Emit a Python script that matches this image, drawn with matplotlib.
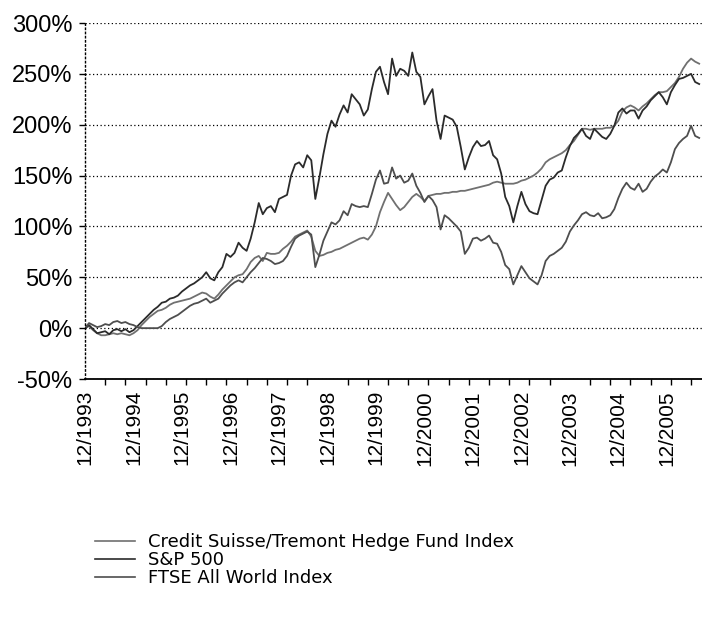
import numpy as np
import matplotlib
matplotlib.use("Agg")
import matplotlib.pyplot as plt
from matplotlib.ticker import FixedLocator, FuncFormatter

plt.rcParams['font.family'] = ['Liberation Sans', 'DejaVu Sans']

# monthly cumulative returns (%) starting 12/1993
hedge = [
    0, 2, -2, -5, -7, -7, -6, -5, -6, -5, -6, -7,
    -5, -2, 3, 7, 11, 14, 17, 18, 20, 23, 25, 26,
    27, 28, 29, 31, 33, 35, 34, 31, 29, 33, 38, 42,
    46, 50, 52, 53, 58, 65, 69, 71, 66, 74, 73, 73,
    74, 78, 81, 85, 90, 92, 94, 96, 90, 76, 71, 72,
    74, 75, 77, 78, 80, 82, 84, 86, 88, 89, 87, 92,
    100, 114, 124, 133, 127, 121, 116, 119, 124, 129, 132, 129,
    125, 130, 131, 132, 132, 133, 133, 134, 134, 135, 135, 136,
    137, 138, 139, 140, 141, 143, 144, 143, 142, 142, 142, 143,
    145, 146, 148, 150, 153, 157, 163, 166, 168, 170, 172, 175,
    180, 184, 190, 196, 196, 195, 196, 196, 196, 197, 197, 199,
    204, 213, 217, 219, 217, 214, 218, 221, 225, 229, 232, 232,
    233, 237, 241, 247, 255, 261, 265, 262, 260,
]

sp500 = [
    0, 3, -1, -5, -4, -3, -6, -2, -1, -3, -1, -4,
    -2, 2, 6, 10, 14, 18, 21, 25, 26, 29, 30, 32,
    36, 39, 42, 44, 47, 50, 55, 49, 47, 55, 60, 73,
    70, 74, 84, 79, 76, 88, 104, 123, 112, 118, 120, 114,
    127, 129, 131, 150, 161, 163, 158, 170, 165, 127, 148, 171,
    191, 204, 198, 210, 219, 212, 230, 225, 220, 209, 215, 235,
    252, 257, 242, 230, 265, 248, 255, 253, 248, 271, 252, 247,
    220, 228, 235, 204, 186, 209, 207, 205, 198, 178, 156, 168,
    178, 184, 179, 180, 184, 170, 166, 152, 129, 120, 104, 120,
    134, 122, 115, 113, 112, 126, 140, 146, 148, 153, 155, 168,
    179, 187, 191, 196, 189, 186, 196, 192, 188, 186, 191, 199,
    212, 216, 211, 214, 214, 206, 214, 218, 224, 228, 232, 227,
    220, 232, 239, 245, 246, 248, 250, 242, 240,
]

ftse = [
    0, 5, 3, 1, 2, 4, 3, 6, 7, 5, 6, 4,
    3, 1, 0, 0, 0, 0, 0, 2, 6, 9, 11, 13,
    16, 19, 22, 24, 25, 27, 29, 25, 27, 29, 34, 38,
    42, 45, 47, 45, 50, 55, 59, 64, 69, 68, 66, 63,
    64, 66, 71, 80, 88, 91, 93, 95, 92, 60, 72, 86,
    95, 104, 102, 106, 115, 111, 122, 120, 119, 120, 119, 132,
    146, 155, 142, 143, 158, 147, 150, 143, 145, 152, 140, 133,
    124, 130, 126, 119, 97, 111, 108, 104, 100, 95, 73, 79,
    88, 89, 86, 88, 91, 84, 83, 75, 62, 58, 43, 52,
    61, 55, 49, 46, 43, 52, 66, 71, 73, 76, 79, 85,
    95, 101, 106, 112, 114, 111, 110, 113, 108, 109, 111, 117,
    128, 137, 143, 138, 136, 142, 134, 137, 144, 149, 152, 156,
    153, 163, 176, 182, 186, 189, 199, 189, 187,
]

year_labels = ['12/%d' % y for y in range(1993, 2006)]
series_names = ['Credit Suisse/Tremont Hedge Fund Index', 'S&P 500', 'FTSE All World Index']

months = np.arange(len(sp500))

fig = plt.figure(figsize=(7.02, 6.17), dpi=100)
ax = fig.add_axes([85 / 702, 1 - 379 / 617, 617 / 702, (379 - 23) / 617])

ax.plot(months, hedge, color='#707070', lw=1.3, label=series_names[0])
ax.plot(months, sp500, color='#2b2b2b', lw=1.3, label=series_names[1])
ax.plot(months, ftse, color='#4e4e4e', lw=1.3, label=series_names[2])

ax.set_xlim(0, 152.7)
ax.set_ylim(-50, 300)

# y axis
ax.set_yticks(np.arange(-50, 301, 50))
ax.yaxis.set_major_formatter(FuncFormatter(lambda v, p: '%d%%' % v))
ax.yaxis.grid(True, color='black', linestyle=(0, (1, 2)), linewidth=0.9)
ax.tick_params(axis='y', length=4, width=1, pad=5, labelsize=17)

# x axis: labels every 12 months, tick marks every 5 months
ax.xaxis.set_major_locator(FixedLocator(np.arange(0, 145, 12)))
ax.set_xticklabels(year_labels, rotation=90)
ax.xaxis.set_minor_locator(FixedLocator(np.arange(0, 153, 5)))
ax.tick_params(axis='x', which='major', length=0, pad=8, labelsize=15)
ax.tick_params(axis='x', which='minor', length=4, width=1)

for s in ['top', 'right']:
    ax.spines[s].set_visible(False)
ax.spines['left'].set_linestyle((0, (1, 2)))
ax.spines['left'].set_linewidth(1)
ax.spines['bottom'].set_linewidth(1.3)

leg = ax.legend(loc='upper left', bbox_to_anchor=(95 / 702, 1 - 533 / 617),
                bbox_transform=fig.transFigure, frameon=False,
                prop={'family': 'DejaVu Sans', 'size': 13},
                handlelength=2.2, handletextpad=0.72, labelspacing=0.0,
                borderaxespad=0, borderpad=0)
for line in leg.get_lines():
    line.set_linewidth(1.2)

fig.savefig('out.png', dpi=100)
